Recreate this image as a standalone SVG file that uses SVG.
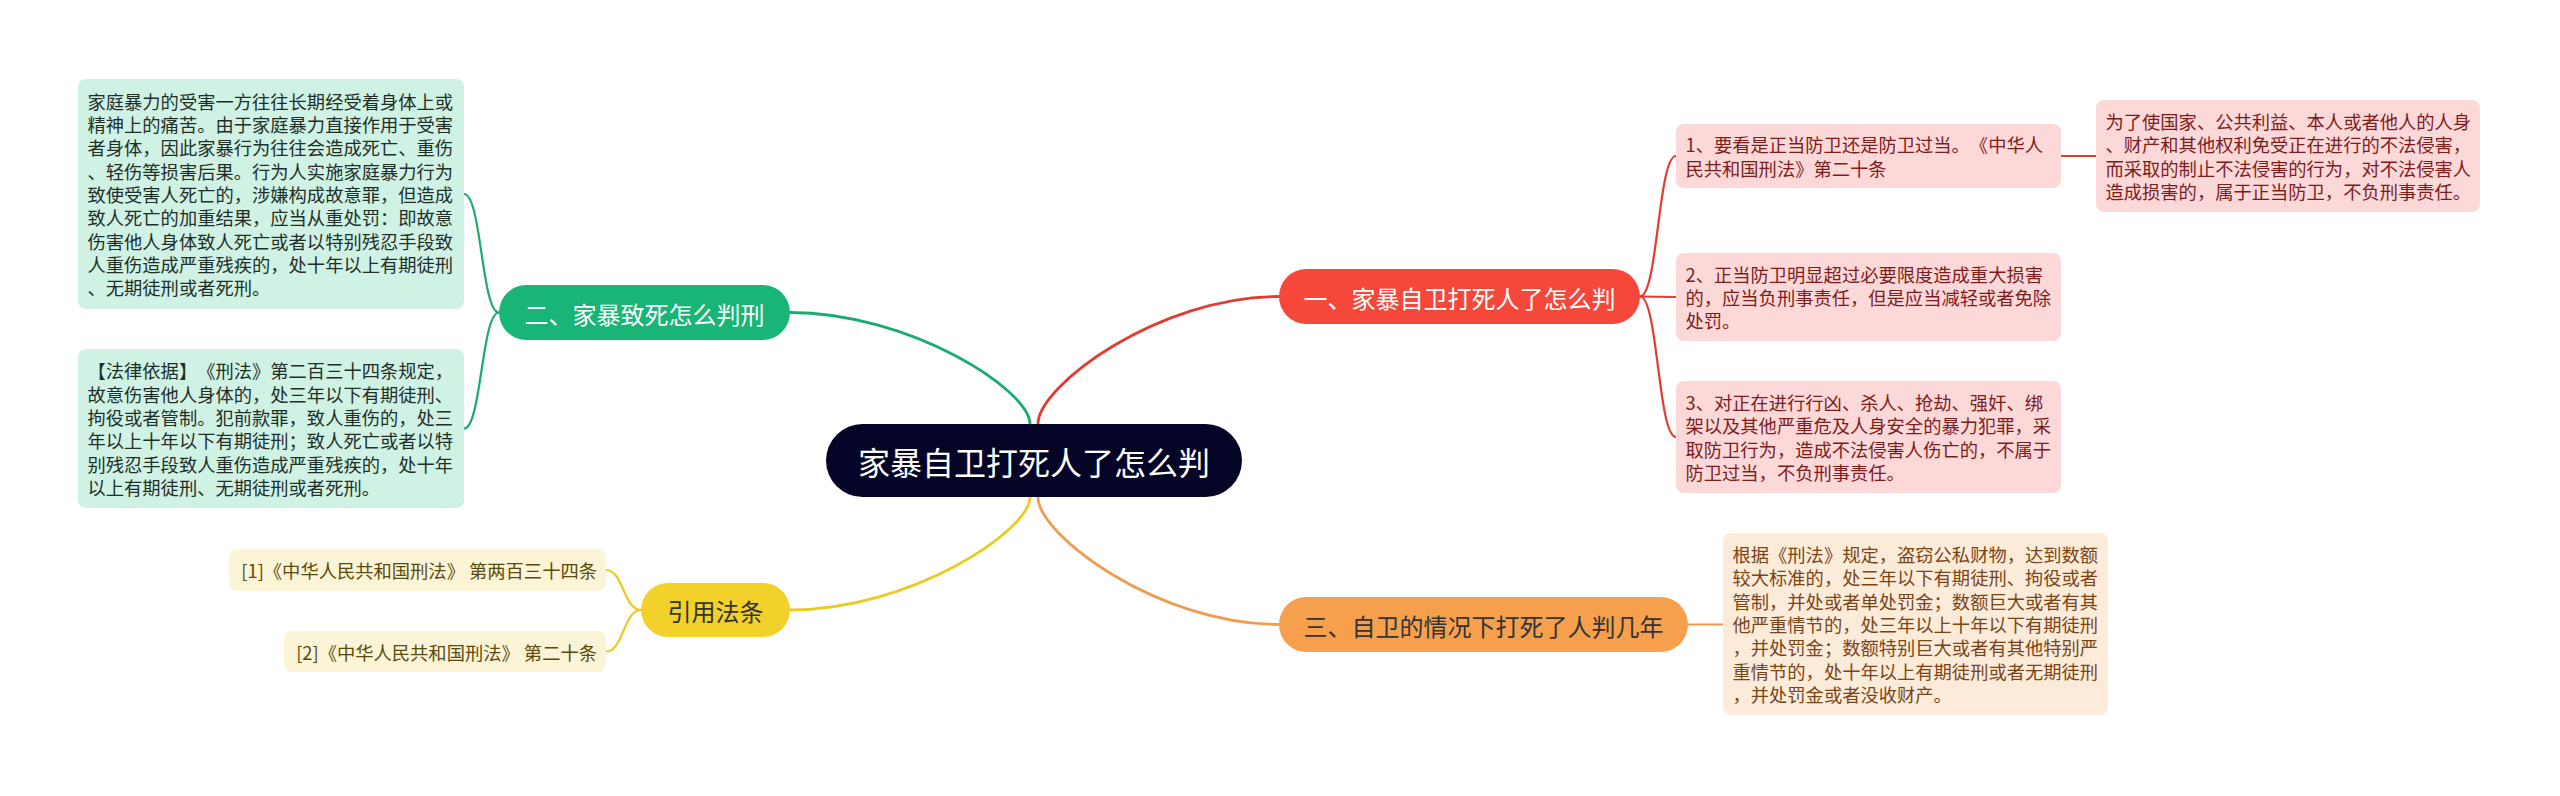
<svg xmlns="http://www.w3.org/2000/svg" width="2560" height="796" viewBox="0 0 2560 796">
<style>
text{font-family:"Noto Sans CJK SC","Noto Sans",sans-serif;dominant-baseline:central;text-spacing-trim:space-all}
.t{font-size:18.3px}
.l2{font-size:24px;text-anchor:middle}
.c{fill:none;stroke-linecap:round}
.gl{stroke:#1aab73}
.rl{stroke:#e23c31}
.yl{stroke:#ebca24}
.ol{stroke:#f09c50}
.m{stroke-width:2.8}
.s{stroke-width:2.2}
.gb{fill:#cff2e4}
.gt{fill:#1f2f28}
.rb{fill:#fdd8d8}
.rt{fill:#7e1b1b}
.yb{fill:#fcf4d6}
.yt{fill:#5a4a0c}
.ob{fill:#fdebda}
.ot{fill:#7a4414}
</style>
<rect width="2560" height="796" fill="#ffffff"/>
<g id="connectors">
<path class="c gl m" d="M1030,424 C1030,390 910,312.5 790,312.5"/>
<path class="c rl m" d="M1038,424 C1038,386 1158,296.5 1279,296.5"/>
<path class="c yl m" d="M1030,497 C1030,531 910,610 790,610"/>
<path class="c ol m" d="M1038,497 C1038,535 1158,624.5 1279,624.5"/>
<path class="c rl s" d="M1640,296.5 C1658,296.5 1658,156 1676,156"/>
<path class="c rl s" d="M1640,296.5 L1676,297"/>
<path class="c rl s" d="M1640,296.5 C1658,296.5 1658,437 1676,437"/>
<path class="c rl s" d="M2061,156 L2096,156"/>
<path class="c gl s" d="M499,312.5 C481.5,312.5 481.5,194 464,194"/>
<path class="c gl s" d="M499,312.5 C481.5,312.5 481.5,428.5 464,428.5"/>
<path class="c yl s" d="M641,610 C623.5,610 623.5,570 606,570"/>
<path class="c yl s" d="M641,610 C623.5,610 623.5,651.5 606,651.5"/>
<path class="c ol s" d="M1688,624.5 L1723,624.5"/>
</g>
<g id="root">
<rect x="826" y="424" width="416" height="73" rx="36.5" fill="#040427"/>
<text x="1034" y="461" style="font-size:32px;text-anchor:middle" fill="#ffffff">家暴自卫打死人了怎么判</text>
</g>
<g id="n1">
<rect x="1279" y="269" width="361" height="55" rx="27.5" fill="#f5483b"/>
<text class="l2" x="1459.5" y="297" fill="#ffffff">一、家暴自卫打死人了怎么判</text>
</g>
<g id="n2">
<rect x="499" y="285" width="291" height="55" rx="27.5" fill="#18b577"/>
<text class="l2" x="644.5" y="313" fill="#ffffff">二、家暴致死怎么判刑</text>
</g>
<g id="n3">
<rect x="641" y="583" width="149" height="54" rx="27" fill="#f2d12a"/>
<text class="l2" x="715.5" y="610.5" fill="#333333">引用法条</text>
</g>
<g id="n4">
<rect x="1279" y="597" width="409" height="55" rx="27.5" fill="#f6a04e"/>
<text class="l2" x="1483.5" y="625" fill="#333333">三、自卫的情况下打死了人判几年</text>
</g>
<g id="n1a">
<rect class="rb" x="1676" y="124" width="385" height="64" rx="8"/>
<text class="t rt" x="1685.5"><tspan x="1685.5" y="144.4">1、要看是正当防卫还是防卫过当。《中华人</tspan><tspan x="1685.5" y="167.7">民共和国刑法》第二十条</tspan></text>
</g>
<g id="n1a1">
<rect class="rb" x="2096" y="100" width="384" height="112" rx="8"/>
<text class="t rt"><tspan x="2105.5" y="121.1">为了使国家、公共利益、本人或者他人的人身</tspan><tspan x="2105.5" y="144.4">、财产和其他权利免受正在进行的不法侵害，</tspan><tspan x="2105.5" y="167.7">而采取的制止不法侵害的行为，对不法侵害人</tspan><tspan x="2105.5" y="191">造成损害的，属于正当防卫，不负刑事责任。</tspan></text>
</g>
<g id="n1b">
<rect class="rb" x="1676" y="253" width="385" height="88" rx="8"/>
<text class="t rt"><tspan x="1685.5" y="273.7">2、正当防卫明显超过必要限度造成重大损害</tspan><tspan x="1685.5" y="297">的，应当负刑事责任，但是应当减轻或者免除</tspan><tspan x="1685.5" y="320.3">处罚。</tspan></text>
</g>
<g id="n1c">
<rect class="rb" x="1676" y="381" width="385" height="112" rx="8"/>
<text class="t rt"><tspan x="1685.5" y="402">3、对正在进行行凶、杀人、抢劫、强奸、绑</tspan><tspan x="1685.5" y="425.4">架以及其他严重危及人身安全的暴力犯罪，采</tspan><tspan x="1685.5" y="448.7">取防卫行为，造成不法侵害人伤亡的，不属于</tspan><tspan x="1685.5" y="472">防卫过当，不负刑事责任。</tspan></text>
</g>
<g id="n2a">
<rect class="gb" x="78" y="79" width="386" height="230" rx="8"/>
<text class="t gt"><tspan x="87.5" y="100.8">家庭暴力的受害一方往往长期经受着身体上或</tspan><tspan x="87.5" y="124.1">精神上的痛苦。由于家庭暴力直接作用于受害</tspan><tspan x="87.5" y="147.4">者身体，因此家暴行为往往会造成死亡、重伤</tspan><tspan x="87.5" y="170.7">、轻伤等损害后果。行为人实施家庭暴力行为</tspan><tspan x="87.5" y="194">致使受害人死亡的，涉嫌构成故意罪，但造成</tspan><tspan x="87.5" y="217.3">致人死亡的加重结果，应当从重处罚：即故意</tspan><tspan x="87.5" y="240.6">伤害他人身体致人死亡或者以特别残忍手段致</tspan><tspan x="87.5" y="263.9">人重伤造成严重残疾的，处十年以上有期徒刑</tspan><tspan x="87.5" y="287.2">、无期徒刑或者死刑。</tspan></text>
</g>
<g id="n2b">
<rect class="gb" x="78" y="349" width="386" height="159" rx="8"/>
<text class="t gt"><tspan x="87.5" y="370.3">【法律依据】《刑法》第二百三十四条规定，</tspan><tspan x="87.5" y="393.6">故意伤害他人身体的，处三年以下有期徒刑、</tspan><tspan x="87.5" y="416.9">拘役或者管制。犯前款罪，致人重伤的，处三</tspan><tspan x="87.5" y="440.2">年以上十年以下有期徒刑；致人死亡或者以特</tspan><tspan x="87.5" y="463.5">别残忍手段致人重伤造成严重残疾的，处十年</tspan><tspan x="87.5" y="486.8">以上有期徒刑、无期徒刑或者死刑。</tspan></text>
</g>
<g id="n3a">
<rect class="yb" x="229" y="549" width="377" height="42" rx="8"/>
<text class="t yt" x="597" y="570" text-anchor="end">[1]《中华人民共和国刑法》 第两百三十四条</text>
</g>
<g id="n3b">
<rect class="yb" x="284" y="631" width="322" height="41" rx="8"/>
<text class="t yt" x="597" y="651.5" text-anchor="end">[2]《中华人民共和国刑法》 第二十条</text>
</g>
<g id="n4a">
<rect class="ob" x="1723" y="533" width="385" height="182" rx="8"/>
<text class="t ot"><tspan x="1732.5" y="554.1">根据《刑法》规定，盗窃公私财物，达到数额</tspan><tspan x="1732.5" y="577.4">较大标准的，处三年以下有期徒刑、拘役或者</tspan><tspan x="1732.5" y="600.7">管制，并处或者单处罚金；数额巨大或者有其</tspan><tspan x="1732.5" y="624">他严重情节的，处三年以上十年以下有期徒刑</tspan><tspan x="1732.5" y="647.3">，并处罚金；数额特别巨大或者有其他特别严</tspan><tspan x="1732.5" y="670.6">重情节的，处十年以上有期徒刑或者无期徒刑</tspan><tspan x="1732.5" y="693.9">，并处罚金或者没收财产。</tspan></text>
</g>
</svg>
